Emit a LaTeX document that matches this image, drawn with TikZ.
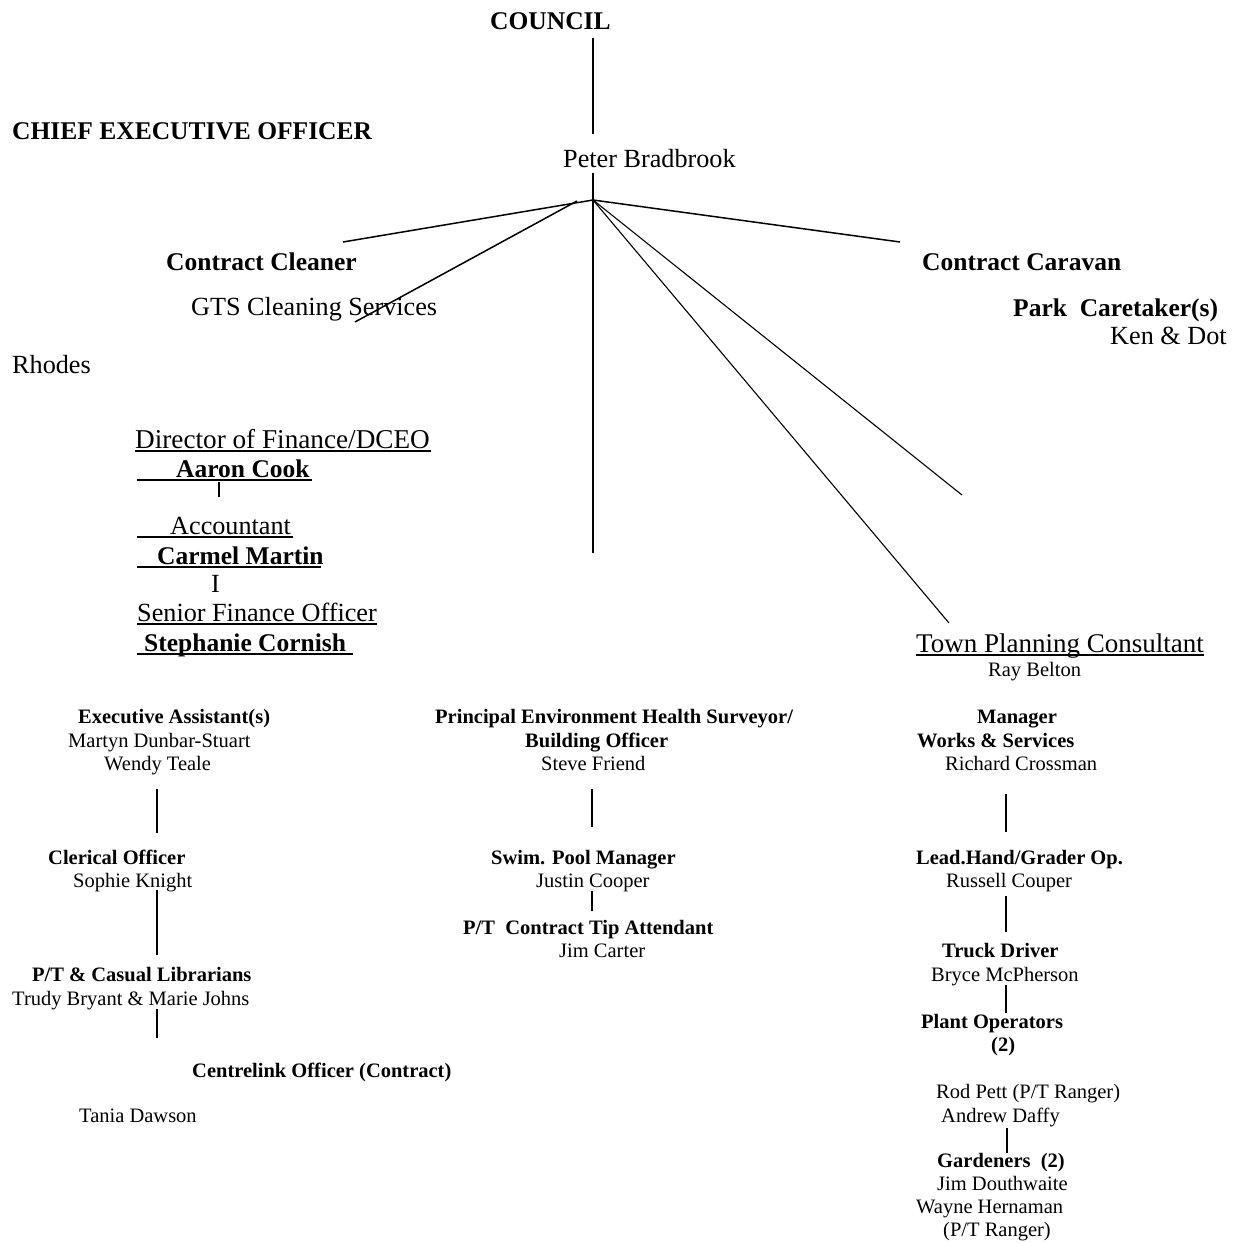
\documentclass[tikz,border=0pt]{standalone}
\usepackage{fontspec}
\setmainfont{Liberation Serif}
\newcommand\myul[3]{\rlap{\rule[-3.5pt]{#3}{1.3pt}}\hspace*{#1}#2}
\tikzset{
  big/.style={font=\fontsize{26.2}{30}\selectfont, inner sep=0pt, anchor=base west},
  bigb/.style={font=\fontsize{25.5}{30}\selectfont\bfseries, inner sep=0pt, anchor=base west},
  sm/.style={font=\fontsize{20.5}{24}\selectfont, inner sep=0pt, anchor=base west},
  smb/.style={font=\fontsize{20.5}{24}\selectfont\bfseries, inner sep=0pt, anchor=base west},
  conn/.style={line width=1.5pt},
  thin/.style={line width=1.1pt}
}
\begin{document}
\begin{tikzpicture}[x=1pt,y=-1pt]
\useasboundingbox[fill=white] (0,0) rectangle (1236,1243);

% top
\node[bigb] (council) at (490,29) {COUNCIL};
\node[bigb] (ceo) at (12,139) {CHIEF EXECUTIVE OFFICER};
\node[big] (peter) at (563,167) {Peter Bradbrook};
\coordinate (cTop) at (593,38);
\coordinate (cBot) at (593,134);
\draw[conn] (cTop) -- (cBot);
\coordinate (hub) at (593,200);
\coordinate (pTop) at (593,173);
\coordinate (pBot) at (593,553);
\draw[conn] (pTop) -- (pBot);

\node[bigb] (cleaner) at (166,270) {Contract Cleaner};
\node[big] (gts) at (191,315) {GTS Cleaning Services};
\node[bigb] (caravan) at (922,270) {Contract Caravan};
\node[bigb] (park) at (1013,316) {Park\ \ Caretaker(s)};
\node[big] (ken) at (1110,344) {Ken \& Dot};
\node[big] (rhodes) at (12,373) {Rhodes};

\coordinate (eCleaner) at (343,242);
\coordinate (sGts) at (577,201);
\coordinate (eGts) at (355,322);
\coordinate (eCaravan) at (900,242);
\coordinate (eLong) at (962,495);
\coordinate (eTown) at (949,623);
\draw[conn] (hub) -- (eCleaner);
\draw[conn] (sGts) -- (eGts);
\draw[conn] (hub) -- (eCaravan);
\draw[thin] (hub) -- (eLong);
\draw[thin] (hub) -- (eTown);

% finance
\node[big, font=\fontsize{27.2}{30}\selectfont] (dir) at (135,448) {\myul{0pt}{Director of Finance/DCEO}{296pt}};
\node[bigb] (aaron) at (137,477) {\myul{39pt}{Aaron Cook}{175pt}};
\coordinate (aTop) at (219,482);
\coordinate (aBot) at (219,497);
\draw[thin] (aTop) -- (aBot);
\node[big] (acc) at (137,534) {\myul{33pt}{Accountant}{156pt}};
\node[bigb] (carmel) at (137,564) {\myul{20pt}{Carmel Martin}{184pt}};
\node[big] (ii) at (211,592) {I};
\node[big] (sfo) at (137,621) {\myul{0pt}{Senior Finance Officer}{240pt}};
\node[bigb] (steph) at (137,651) {\myul{7pt}{Stephanie Cornish}{216pt}};

\node[big, font=\fontsize{27}{30}\selectfont] (town) at (916,652) {\myul{0pt}{Town Planning Consultant}{288pt}};
\node[sm] (ray) at (988,676) {Ray Belton};

% left column
\node[smb] (exa) at (78,723) {Executive Assistant(s)};
\node[sm] (martyn) at (68,747) {Martyn Dunbar-Stuart};
\node[sm] (wendy) at (104,770) {Wendy Teale};
\coordinate (l1a) at (157,789);
\coordinate (l1b) at (157,833);
\draw[conn] (l1a) -- (l1b);
\node[smb] (cler) at (48,864) {Clerical Officer};
\node[sm] (sophie) at (73,887) {Sophie Knight};
\coordinate (l2a) at (157,890);
\coordinate (l2b) at (157,955);
\draw[conn] (l2a) -- (l2b);
\node[smb] (lib) at (32,981) {P/T \& Casual Librarians};
\node[sm] (trudy) at (12,1005) {Trudy Bryant \& Marie Johns};
\coordinate (l3a) at (157,1009);
\coordinate (l3b) at (157,1038);
\draw[conn] (l3a) -- (l3b);
\node[smb] (centre) at (192,1077) {Centrelink Officer (Contract)};
\node[sm] (tania) at (79,1122) {Tania Dawson};

% middle column
\node[smb] (pehs) at (435,723) {Principal Environment Health Surveyor/};
\node[smb] (bo) at (525,747) {Building Officer};
\node[sm] (steve) at (541,770) {Steve Friend};
\coordinate (m1a) at (592,789);
\coordinate (m1b) at (592,827);
\draw[conn] (m1a) -- (m1b);
\node[smb] (swim) at (491,864) {Swim. Pool Manager};
\node[sm] (justin) at (536,887) {Justin Cooper};
\coordinate (m2a) at (592,891);
\coordinate (m2b) at (592,911);
\draw[conn] (m2a) -- (m2b);
\node[smb] (tip) at (463,934) {P/T\ \ Contract Tip Attendant};
\node[sm] (jimc) at (559,957) {Jim Carter};

% right column
\node[smb] (mgr) at (977,723) {Manager};
\node[smb] (works) at (917,747) {Works \& Services};
\node[sm] (richard) at (945,770) {Richard Crossman};
\coordinate (r1a) at (1006,794);
\coordinate (r1b) at (1006,832);
\draw[conn] (r1a) -- (r1b);
\node[smb] (lead) at (916,864) {Lead.Hand/Grader Op.};
\node[sm] (russell) at (946,887) {Russell Couper};
\coordinate (r2a) at (1006,896);
\coordinate (r2b) at (1006,932);
\draw[conn] (r2a) -- (r2b);
\node[smb] (truck) at (942,957) {Truck Driver};
\node[sm] (bryce) at (931,981) {Bryce McPherson};
\coordinate (r3a) at (1006,985);
\coordinate (r3b) at (1006,1013);
\draw[conn] (r3a) -- (r3b);
\node[smb] (plant) at (921,1028) {Plant Operators};
\node[smb] (two) at (991,1051) {(2)};
\node[sm] (rod) at (936,1098) {Rod Pett (P/T Ranger)};
\node[sm] (andrew) at (941,1122) {Andrew Daffy};
\coordinate (r4a) at (1007,1128);
\coordinate (r4b) at (1007,1153);
\draw[conn] (r4a) -- (r4b);
\node[smb] (gard) at (937,1167) {Gardeners\ \ (2)};
\node[sm] (jimd) at (937,1190) {Jim Douthwaite};
\node[sm] (wayne) at (916,1213) {Wayne Hernaman};
\node[sm] (ptr) at (943,1236) {(P/T Ranger)};
\end{tikzpicture}
\end{document}
